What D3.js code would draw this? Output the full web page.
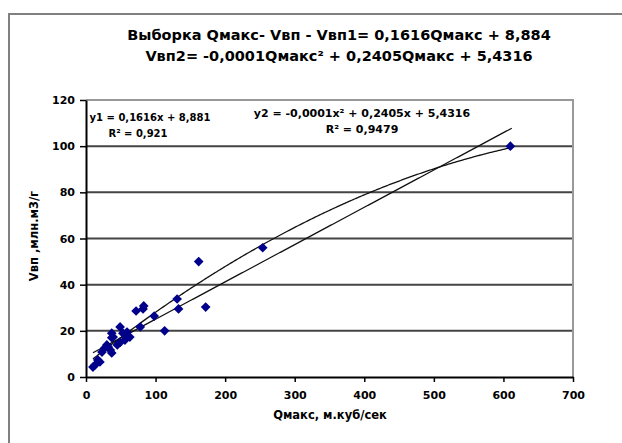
<!DOCTYPE html>
<html>
<head>
<meta charset="utf-8">
<script src="https://cdn.jsdelivr.net/npm/d3@7"></script>
<style>
	body { margin: 0; background: #fff; }
	text { font-family: "DejaVu Sans", Verdana, sans-serif; font-weight: bold; }
</style>
</head>
<body>
<div class="canvas"></div>
<script>
// data: Qмакс (x) and Vвп (y)
const qValues = [10, 13, 17, 20, 23, 27, 30, 32, 35, 37, 37, 37, 39, 45, 49, 49, 53, 56, 59, 63,
	72, 78, 82, 83, 98, 113, 131, 133, 162, 172, 254, 610];
const vValues = [4.3, 5.2, 7.4, 6.5, 10.8, 12.6, 13.9, 13, 11.7, 10.4, 17, 19, 17.3, 13.9, 15, 21.7, 19, 16, 19.5, 17.3,
	28.6, 21.7, 29.5, 30.8, 26.4, 20, 33.8, 29.5, 50, 30.3, 56, 100];

// trend line coefficients
const linCoef = [8.88, 0.1616];            // b, a
const polyCoef = [5.4316, 0.2405, -0.000142]; // c0, c1, c2

const xTicks = [0, 100, 200, 300, 400, 500, 600, 700];
const yTicks = [0, 20, 40, 60, 80, 100, 120];

const titleLines = [
	'Выборка Qмакс- Vвп - Vвп1= 0,1616Qмакс + 8,884',
	'Vвп2= -0,0001Qмакс\u00b2 + 0,2405Qмакс + 5,4316'
];
const eq1 = ['y1 = 0,1616x + 8,881', 'R\u00b2 = 0,921'];
const eq2 = ['y2 = -0,0001x\u00b2 + 0,2405x + 5,4316', 'R\u00b2 = 0,9479'];

const font = '"DejaVu Sans", Verdana, sans-serif';

const svg = d3.select('.canvas')
	.append('svg')
	.attr('width', 622)
	.attr('height', 443);

// outer chart border
svg.append('rect')
	.attr('x', 9).attr('y', 14)
	.attr('width', 640).attr('height', 460)
	.attr('fill', 'none')
	.attr('stroke', '#808080')
	.attr('stroke-width', 2);

const margin = {top: 100, left: 86};
const graphWidth = 573 - 86;
const graphHeight = 377 - 100;

const graph = svg.append('g')
	.attr('transform', `translate(${margin.left},${margin.top})`);

const x = d3.scaleLinear().domain([0, 700]).range([0, graphWidth]);
const y = d3.scaleLinear().domain([0, 120]).range([graphHeight, 0]);

// gridlines
graph.append('g')
	.selectAll('line')
	.data(yTicks.filter(d => d > 0 && d < 120))
	.enter().append('line')
	.attr('x1', 0).attr('x2', graphWidth)
	.attr('y1', d => y(d)).attr('y2', d => y(d))
	.attr('stroke', '#444')
	.attr('stroke-width', 2);

// plot border top / right
graph.append('path')
	.attr('d', `M0,${y(120)}H${graphWidth}V${graphHeight}`)
	.attr('fill', 'none')
	.attr('stroke', '#999')
	.attr('stroke-width', 2);

// trend lines
const xs = d3.range(10, 612.5, 2);
const line = d3.line().x(d => x(d[0])).y(d => y(d[1]));

graph.append('path')
	.attr('d', line(xs.map(q => [q, linCoef[0] + linCoef[1] * q])))
	.attr('fill', 'none')
	.attr('stroke', '#111')
	.attr('stroke-width', 1.3);

graph.append('path')
	.attr('d', line(xs.map(q => [q, polyCoef[0] + polyCoef[1] * q + polyCoef[2] * q * q])))
	.attr('fill', 'none')
	.attr('stroke', '#111')
	.attr('stroke-width', 1.3);

// points
graph.append('g')
	.selectAll('path')
	.data(qValues.map((q, i) => [q, vValues[i]]))
	.enter().append('path')
	.attr('d', d3.symbol().type(d3.symbolDiamond2).size(60))
	.attr('transform', d => `translate(${x(d[0])},${y(d[1])})`)
	.attr('fill', '#00008b');

// axes
const xAxis = d3.axisBottom(x).tickValues(xTicks).tickSize(5).tickSizeOuter(0);
const yAxis = d3.axisLeft(y).tickValues(yTicks).tickSize(6).tickSizeOuter(0);

const xAxisGroup = graph.append('g')
	.attr('transform', `translate(0,${graphHeight})`)
	.call(xAxis);
const yAxisGroup = graph.append('g').call(yAxis);

[xAxisGroup, yAxisGroup].forEach(g => {
	g.select('.domain').attr('stroke', '#000').attr('stroke-width', 2);
	g.selectAll('.tick line').attr('stroke', '#000').attr('stroke-width', 1.5);
	g.selectAll('text')
		.attr('font-size', 11)
		.attr('font-weight', 'bold')
		.attr('font-family', font)
		.attr('fill', '#000');
});
xAxisGroup.selectAll('text').attr('dy', '1.25em');
yAxisGroup.selectAll('text').attr('x', -11);

// title
svg.append('g')
	.selectAll('text')
	.data(titleLines)
	.enter().append('text')
	.attr('x', 339)
	.attr('y', (d, i) => 40 + i * 21)
	.attr('text-anchor', 'middle')
	.attr('font-size', 14.5)
	.text(d => d);

// equation labels
svg.append('g')
	.selectAll('text')
	.data(eq1)
	.enter().append('text')
	.attr('x', (d, i) => i === 0 ? 150 : 138)
	.attr('y', (d, i) => 121 + i * 16)
	.attr('text-anchor', 'middle')
	.attr('font-size', 10)
	.text(d => d);

svg.append('g')
	.selectAll('text')
	.data(eq2)
	.enter().append('text')
	.attr('x', 362)
	.attr('y', (d, i) => 117 + i * 16)
	.attr('text-anchor', 'middle')
	.attr('font-size', 11)
	.text(d => d);

// axis titles
svg.append('text')
	.attr('x', 330)
	.attr('y', 419)
	.attr('text-anchor', 'middle')
	.attr('font-size', 11.5)
	.text('Qмакс, м.куб/сек');

svg.append('text')
	.attr('transform', 'translate(38,236) rotate(-90)')
	.attr('text-anchor', 'middle')
	.attr('font-size', 11.5)
	.text('Vвп ,млн.м3/г');
</script>
</body>
</html>
